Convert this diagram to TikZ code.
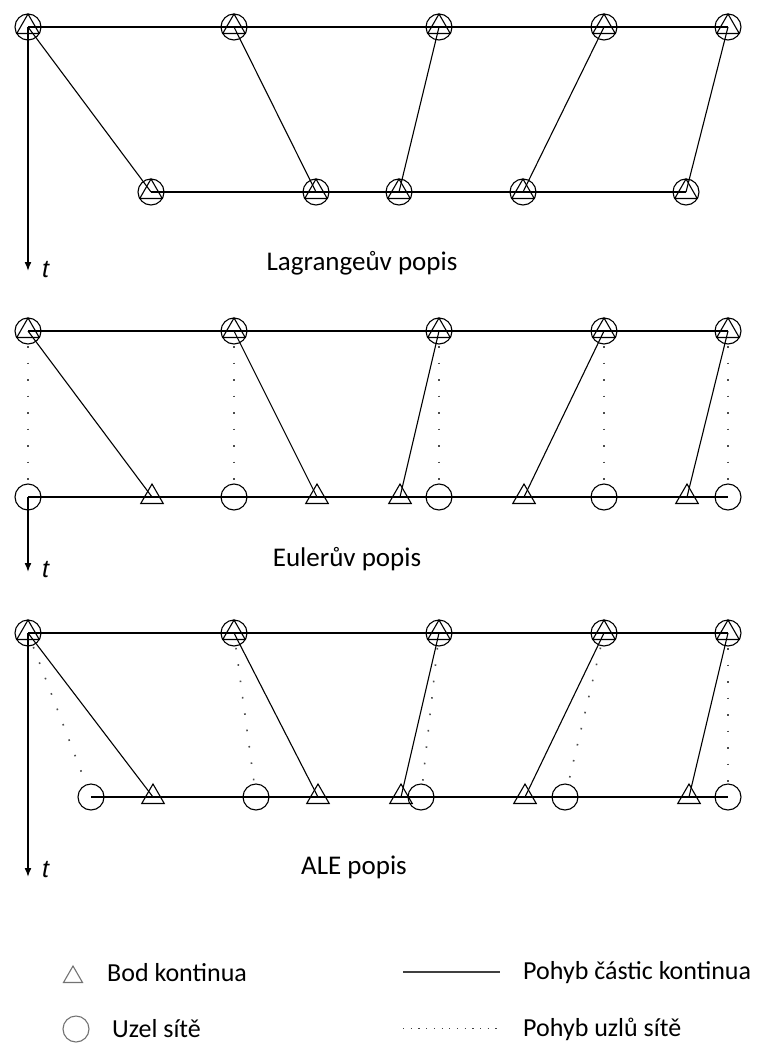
\documentclass[tikz,border=0pt]{standalone}
\usepackage{fontspec}
\setmainfont{Carlito}
\newfontfamily\tfont{Liberation Sans}
\usetikzlibrary{arrows.meta,shapes.geometric}
\begin{document}
\begin{tikzpicture}[x=1pt,y=-1pt,
  meshnode/.style={circle,draw,line width=1.1pt,minimum size=26pt,inner sep=0pt},
  tri/.style={regular polygon,regular polygon sides=3,draw,line width=1.1pt,minimum size=26pt,inner sep=0pt},
  heavy/.style={line width=2pt},
  particle/.style={line width=1.1pt},
  meshmove/.style={line width=1.6pt,black!70,dash pattern=on 1.6pt off 14.9pt},
  axis/.style={line width=1.6pt,-{Latex[length=9pt,width=7pt]}},
  tlabel/.style={font=\tfont\itshape\fontsize{25}{25}\selectfont,anchor=base west,inner sep=0pt},
  paneltitle/.style={font=\fontsize{27}{27}\selectfont,anchor=base,inner sep=0pt},
  legtext/.style={font=\fontsize{26}{26}\selectfont,anchor=base west,inner sep=0pt},
  legsym/.style={draw=black!55,line width=1.1pt,inner sep=0pt}
]
\useasboundingbox (0,0) rectangle (757,1043);

% ================= Lagrange =================
\foreach \n/\x in {1/28,2/234,3/439,4/604,5/728}{
  \node[meshnode] (LA\n) at (\x,27) {};
  \node[tri] (LAt\n) at (\x,27) {};
}
\foreach \n/\x in {1/151,2/316,3/399,4/523,5/686}{
  \node[meshnode] (LB\n) at (\x,192) {};
  \node[tri] (LBt\n) at (\x,192) {};
}
\draw[heavy] (LA1.center) -- (LA5.center);
\draw[heavy] (LB1.center) -- (LB5.center);
\foreach \n in {1,...,5}{\draw[particle] (LA\n.center) -- (LB\n.center);}
\coordinate (LAend) at (28,271);
\draw[axis] (LA1.center) -- (LAend);
\node[tlabel] (Lt) at (42,277) {t};
\node[paneltitle] (Ltitle) at (362,270) {Lagrangeův popis};

% ================= Euler =================
\foreach \n/\x in {1/28,2/234,3/439,4/604,5/728}{
  \node[meshnode] (EA\n) at (\x,331) {};
  \node[tri] (EAt\n) at (\x,331) {};
  \node[meshnode] (EB\n) at (\x,497) {};
}
\foreach \n/\x in {1/152,2/317,3/400,4/524,5/687}{
  \node[tri] (ET\n) at (\x,497) {};
}
\draw[heavy] (EA1.center) -- (EA5.center);
\draw[heavy] (EB1.center) -- (EB5.center);
\foreach \n in {1,...,5}{
  \draw[particle] (EA\n.center) -- (ET\n.center);
  \draw[meshmove,shorten <=15pt,shorten >=13pt] (EA\n.center) -- (EB\n.center);
}
\coordinate (EBend) at (28,572);
\draw[axis] (EB1.center) -- (EBend);
\node[tlabel] (Et) at (42,577) {t};
\node[paneltitle] (Etitle) at (347,566) {Eulerův popis};

% ================= ALE =================
\foreach \n/\x in {1/28,2/234,3/439,4/604,5/728}{
  \node[meshnode] (AA\n) at (\x,633) {};
  \node[tri] (AAt\n) at (\x,633) {};
}
\foreach \n/\x in {1/91,2/256,3/421,4/565,5/728}{
  \node[meshnode] (AB\n) at (\x,797) {};
}
\foreach \n/\x in {1/153,2/318,3/401,4/525,5/689}{
  \node[tri] (AT\n) at (\x,797) {};
}
\draw[heavy] (AA1.center) -- (AA5.center);
\draw[heavy] (AB1.center) -- (AB5.center);
\foreach \n in {1,...,5}{
  \draw[particle] (AA\n.center) -- (AT\n.center);
  \draw[meshmove,shorten <=15pt,shorten >=13pt] (AA\n.center) -- (AB\n.center);
}
\coordinate (AAend) at (28,877);
\draw[axis] (AA1.center) -- (AAend);
\node[tlabel] (At) at (42,877) {t};
\node[paneltitle] (Atitle) at (354,874) {ALE popis};

% ================= Legend =================
\node[legsym,regular polygon,regular polygon sides=3,minimum size=22pt] (legtri) at (73,977) {};
\node[legtext] (legtritext) at (107,981) {Bod kontinua};
\node[legsym,circle,minimum size=26pt] (legcirc) at (76,1029) {};
\node[legtext] (legcirctext) at (112,1037) {Uzel sítě};
\coordinate (ls1) at (403,972);
\coordinate (ls2) at (500,972);
\draw[line width=1.4pt,black!75] (ls1) -- (ls2);
\node[legtext] (lstext) at (523,979) {Pohyb částic kontinua};
\coordinate (ld1) at (403,1028);
\coordinate (ld2) at (500,1028);
\draw[line width=1pt,black!75,dash pattern=on 1.2pt off 6.5pt] (ld1) -- (ld2);
\node[legtext] (ldtext) at (523,1036) {Pohyb uzlů sítě};
\end{tikzpicture}
\end{document}
